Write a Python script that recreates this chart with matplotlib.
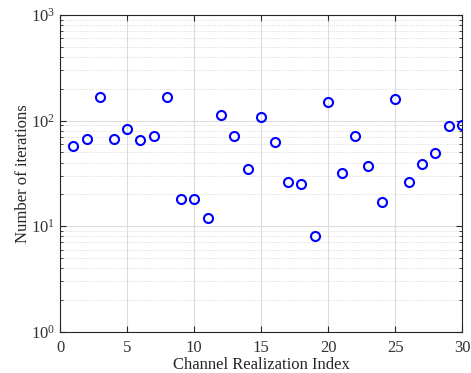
import matplotlib
matplotlib.use("Agg")
import matplotlib.pyplot as plt
from matplotlib.ticker import LogLocator, NullFormatter

plt.rcParams['font.family'] = ['Liberation Serif', 'DejaVu Serif']
plt.rcParams['mathtext.fontset'] = 'custom'
plt.rcParams['mathtext.rm'] = 'Liberation Serif'

realization_index = list(range(1, 31))
iterations = [57, 67, 166, 67, 83, 65, 72, 169, 18, 18,
              12, 112, 71, 35, 108, 63, 26, 25, 8, 151,
              32, 71, 37, 17, 161, 26, 39, 49, 89, 91]
x_ticks = [0, 5, 10, 15, 20, 25, 30]

fig = plt.figure(figsize=(4.71, 3.73), dpi=100)
ax = fig.add_axes([0.1274, 0.1107, 0.8541, 0.8491])

ax.plot(realization_index, iterations, linestyle='none', marker='o',
        markersize=6.5, markerfacecolor='none', markeredgecolor='#0000ff',
        markeredgewidth=1.5, zorder=3)

ax.set_yscale('log')
ax.set_ylim(1, 1000)
ax.set_xlim(0, 30)
ax.set_xticks(x_ticks)
ax.yaxis.set_major_locator(LogLocator(base=10, numticks=10))
ax.yaxis.set_minor_locator(LogLocator(base=10, subs=range(2, 10), numticks=20))
ax.yaxis.set_minor_formatter(NullFormatter())

ax.grid(True, which='major', color='#dcdcdc', linewidth=0.8, linestyle='-')
ax.grid(True, which='minor', axis='y', color='#d0d0d0', linewidth=0.6, linestyle=':')
ax.set_axisbelow(True)

ax.tick_params(which='both', direction='in', top=True, right=True,
               colors='#262626', labelcolor='#333333', labelsize=12)
ax.tick_params(which='major', length=4)
ax.tick_params(which='minor', length=2)
ax.tick_params(axis='x', pad=6)
for s in ax.spines.values():
    s.set_color('#262626')
    s.set_linewidth(0.8)

ax.set_xlabel('Channel Realization Index', fontsize=12, color='#262626', labelpad=1)
ax.set_ylabel('Number of iterations', fontsize=12, color='#262626', labelpad=0)

fig.savefig('out.png', dpi=100)
